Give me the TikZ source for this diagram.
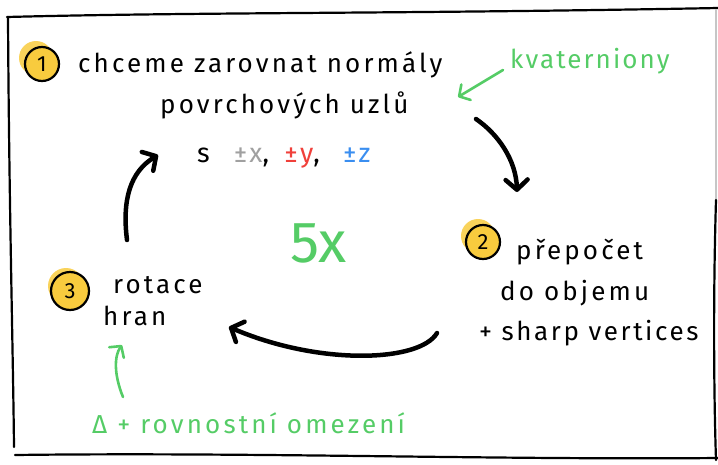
\documentclass[tikz,border=0pt]{standalone}
\usepackage{fontspec}
\setmainfont{Fira Sans}
\usetikzlibrary{arrows.meta}
\definecolor{hgreen}{HTML}{55CC66}
\definecolor{hyellow}{HTML}{F8CB3E}
\definecolor{hgray}{HTML}{A0A0A0}
\definecolor{hred}{HTML}{F0403A}
\definecolor{hblue}{HTML}{3A8EF0}
\tikzset{
  txt/.style={anchor=base west, inner sep=0pt, font=\fontsize{26}{30}\selectfont\addfontfeatures{LetterSpace=12}},
  gtxt/.style={txt, text=hgreen},
  blackarrow/.style={line width=4.5pt, line cap=round, -{Straight Barb[length=10pt,width=22pt,round]}},
  greenarrow/.style={hgreen, line width=2.6pt, line cap=round, -{Straight Barb[length=8pt,width=18pt,round]}},
  frameline/.style={line width=2.2pt, line cap=round},
  numcircle/.style={circle, draw, line width=2.2pt, fill=hyellow, minimum size=34pt, inner sep=0pt, font=\fontsize{22}{24}\selectfont},
}
\begin{document}
\begin{tikzpicture}[x=1pt,y=-1pt]
\useasboundingbox (0,0) rectangle (718,464);
% frame
\draw[frameline] (7,17) .. controls (200,12) and (400,14) .. (718,8);
\draw[frameline] (8,17) .. controls (9,200) and (13,350) .. (14,447);
\draw[frameline] (15,455) .. controls (250,452) and (500,460) .. (718,458);
\draw[frameline, hgray!60] (716,10) -- (716,200);
\draw[frameline] (716,200) .. controls (713,300) and (714,400) .. (716,460);

% highlights
\fill[hyellow, opacity=0.85] (36,58) circle (17);
\fill[hyellow, opacity=0.85] (478,236) circle (17);
\fill[hyellow, opacity=0.85] (66,286) circle (18);

% step 1
\node[numcircle] (n1) at (42,64) {1};
\node[txt] (t1a) at (78,72) {chceme zarovnat normály};
\node[txt] (t1b) at (160,113) {povrchových uzlů};
\node[txt, font=\fontsize{27}{30}\selectfont\addfontfeatures{LetterSpace=8}] (t1c) at (197,162)
  {s\hspace{24pt}\textcolor{hgray}{±x}, \hspace{6pt}\textcolor{hred}{±y}, \hspace{14pt}\textcolor{hblue}{±z}};

% quaternions
\node[gtxt, font=\fontsize{26}{30}\selectfont\addfontfeatures{LetterSpace=8}] (kv) at (510,68) {kvaterniony};
\coordinate (kvs) at (503,70);
\coordinate (kve) at (458,97);
\draw[greenarrow] (kvs) -- (kve);

% step 2
\node[numcircle] (n2) at (483,242) {2};
\node[txt] (t2a) at (516,259) {přepočet};
\node[txt] (t2b) at (500,300) {do objemu};
\node[txt, font=\fontsize{26}{30}\selectfont\addfontfeatures{LetterSpace=10}] (t2c) at (479,340) {+ sharp vertices};

% step 3
\node[numcircle, minimum size=38pt] (n3) at (70,291) {3};
\node[txt] (t3a) at (113,293) {rotace};
\node[txt] (t3b) at (103,325) {hran};

% green bottom
\node[gtxt] (g1) at (92,433) {Δ + rovnostní omezení};
\coordinate (gs) at (123,397);
\coordinate (ge) at (122,345);
\draw[greenarrow] (gs) .. controls (114,375) and (114,356) .. (ge);

% 5x
\node[anchor=base west, inner sep=0pt, text=hgreen, font=\fontsize{58}{60}\selectfont] (five) at (290,262) {5x};

% black cycle arrows
\coordinate (a1s) at (476,119);
\coordinate (a1e) at (517,192);
\draw[blackarrow] (a1s) .. controls (498,134) and (516,160) .. (a1e);
\coordinate (a2s) at (437,333);
\coordinate (a2e) at (229,327);
\draw[blackarrow] (a2s) .. controls (420,362) and (320,366) .. (a2e);
\coordinate (a3s) at (127,240);
\coordinate (a3e) at (158,155);
\draw[blackarrow] (a3s) .. controls (122,200) and (130,172) .. (a3e);
\end{tikzpicture}
\end{document}
